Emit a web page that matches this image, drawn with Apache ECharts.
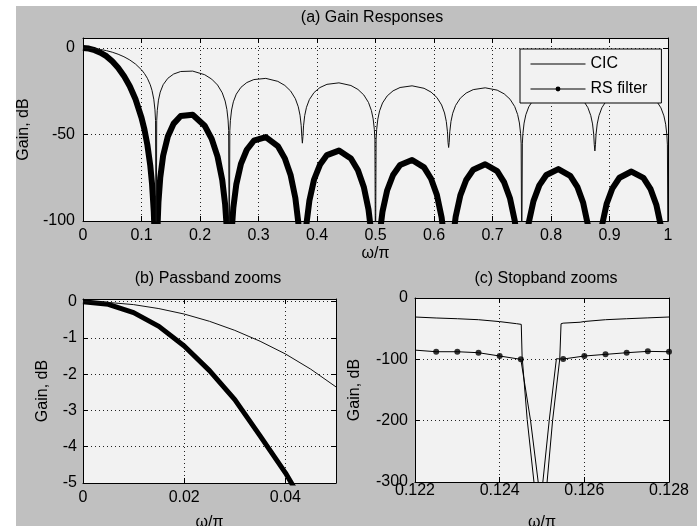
<!DOCTYPE html>
<html><head><meta charset="utf-8">
<script src="https://cdn.jsdelivr.net/npm/echarts@6/dist/echarts.min.js"></script>
<style>
html,body{margin:0;padding:0;background:#fff;}
#fig{position:absolute;left:16px;top:6px;width:681px;height:520px;background:#c0c0c0;}
#chart{position:absolute;left:0;top:0;width:697px;height:526px;}
</style></head><body><div id="fig"></div><div id="chart"></div>
<script>
// ---------- (a) Gain responses, full band ----------
const cicX = [0,0.01,0.02,0.03,0.04,0.05,0.06,0.07,0.08,0.09,0.1,0.105,0.11,0.115,0.118,0.121,0.123,0.124,0.125,
  0.126,0.127,0.129,0.132,0.137,0.145,0.155,0.167,0.1875,0.208,0.22,0.23,0.238,0.243,0.246,0.248,0.249,0.25,
  0.251,0.252,0.254,0.257,0.262,0.27,0.28,0.292,0.3125,0.333,0.345,0.355,0.363,0.368,0.371,0.373,0.374,0.375,
  0.376,0.377,0.379,0.382,0.387,0.395,0.405,0.417,0.4375,0.458,0.47,0.48,0.488,0.493,0.496,0.498,0.499,0.5,
  0.501,0.502,0.504,0.507,0.512,0.52,0.53,0.542,0.5625,0.583,0.595,0.605,0.613,0.618,0.621,0.623,0.624,0.625,
  0.626,0.627,0.629,0.632,0.637,0.645,0.655,0.667,0.6875,0.708,0.72,0.73,0.738,0.743,0.746,0.748,0.749,0.75,
  0.751,0.752,0.754,0.757,0.762,0.77,0.78,0.792,0.8125,0.833,0.845,0.855,0.863,0.868,0.871,0.873,0.874,0.875,
  0.876,0.877,0.879,0.882,0.887,0.895,0.905,0.917,0.9375,0.958,0.97,0.98,0.988,0.993,0.996,0.998,0.999,1];
const cicY = [0,-0.09,-0.37,-0.84,-1.51,-2.41,-3.57,-5.04,-6.91,-9.33,-12.59,-14.73,-17.47,-21.26,-24.53,-29.58,-35.73,-41.81,-130,
  -41.96,-36.0,-30.13,-25.49,-21.21,-17.5,-15.02,-13.57,-13.34,-15.42,-17.97,-21.39,-25.87,-30.65,-35.58,-41.65,-47.71,-130,
  -47.77,-41.78,-35.83,-31.1,-26.66,-22.71,-19.96,-18.23,-17.55,-19.26,-21.62,-24.89,-29.27,-33.97,-38.86,-44.91,-50.95,-55,
  -51.0,-45.0,-39.03,-34.26,-29.76,-25.71,-22.85,-20.99,-20.13,-21.67,-23.93,-27.13,-31.45,-36.12,-40.99,-47.02,-53.06,-130,
  -53.09,-47.08,-41.09,-36.3,-31.77,-27.68,-24.75,-22.82,-21.85,-23.28,-25.48,-28.63,-32.91,-37.55,-42.41,-48.44,-54.47,-57.5,
  -54.49,-48.48,-42.49,-37.69,-33.13,-29.0,-26.03,-24.05,-22.99,-24.34,-26.5,-29.61,-33.86,-38.49,-43.34,-49.36,-55.39,-130,
  -55.4,-49.39,-43.39,-38.57,-34.0,-29.85,-26.85,-24.82,-23.7,-24.99,-27.11,-30.2,-34.42,-39.04,-43.87,-49.89,-55.91,-59.5,
  -55.92,-49.9,-43.9,-39.08,-34.49,-30.31,-27.28,-25.22,-24.04,-25.27,-27.36,-30.42,-34.62,-39.22,-44.05,-50.06,-56,-130];

const rsX = [0,0.01,0.02,0.03,0.04,0.05,0.06,0.07,0.08,0.09,0.1,0.105,0.11,0.115,0.118,0.121,0.123,0.125,
  0.127,0.129,0.132,0.137,0.145,0.155,0.167,0.1875,0.208,0.22,0.23,0.238,0.243,0.246,0.25,
  0.254,0.257,0.262,0.27,0.28,0.292,0.3125,0.333,0.345,0.355,0.363,0.368,0.371,0.375,
  0.379,0.382,0.387,0.395,0.405,0.417,0.4375,0.458,0.47,0.48,0.488,0.493,0.5,
  0.507,0.512,0.52,0.53,0.542,0.5625,0.583,0.595,0.605,0.613,0.618,0.625,
  0.632,0.637,0.645,0.655,0.667,0.6875,0.708,0.72,0.73,0.738,0.743,0.75,
  0.757,0.762,0.77,0.78,0.792,0.8125,0.833,0.845,0.855,0.863,0.868,0.875,
  0.882,0.887,0.895,0.905,0.917,0.9375,0.958,0.97,0.98,0.988,0.993,1];
const rsY = [0,-0.3,-1.22,-2.7,-4.72,-7.7,-11.4,-16.1,-22.1,-29.8,-40.3,-47.1,-55.9,-68.0,-78.5,-94.7,-114,-160,
  -106.6,-89.0,-75.1,-62.2,-51.1,-43.7,-39.3,-38.6,-44.9,-52.5,-62.8,-76.2,-90.6,-105.3,-160,
  -106.4,-92.2,-78.9,-67.0,-58.8,-53.6,-51.5,-56.7,-63.8,-73.6,-86.7,-100.8,-115.5,-160,
  -116.0,-101.7,-88.2,-76.0,-67.5,-61.9,-59.3,-63.9,-70.7,-80.3,-93.3,-107.3,-160,
  -108.1,-94.5,-82.2,-73.4,-67.6,-64.7,-69.0,-75.6,-85.0,-97.9,-111.8,-160,
  -111.3,-97.6,-85.2,-76.3,-70.4,-67.2,-71.2,-77.7,-87.0,-99.8,-113.7,-160,
  -114.6,-100.9,-88.5,-79.4,-73.4,-70.0,-73.9,-80.2,-89.5,-102.2,-116.0,-160,
  -116.5,-102.8,-90.2,-81.1,-75.0,-71.4,-75.1,-81.4,-90.6,-103.2,-117.0,-160];

// ---------- (b) Passband zoom ----------
const passX = [0,0.005,0.01,0.015,0.02,0.025,0.03,0.035,0.04,0.045,0.05];
const passCic = [0,-0.02,-0.08,-0.19,-0.34,-0.54,-0.79,-1.09,-1.44,-1.86,-2.35];
const passRs = [0,-0.07,-0.3,-0.68,-1.22,-1.9,-2.7,-3.7,-4.72,-5.9,-7.2];

// ---------- (c) Stopband zoom ----------
const stopCicX = [0.122,0.1225,0.123,0.1235,0.124,0.1244,0.12451,0.12453,0.12465,0.12481,0.1249,
  0.1251,0.12512,0.12525,0.12542,0.12545,0.1255,0.1259,0.126,0.1265,0.127,0.1275,0.128];
const stopCicY = [-31,-32.6,-33.8,-35.4,-38.5,-41.9,-43,-95,-198,-300,-360,
  -360,-300,-200,-99,-42,-41,-39.5,-38.3,-35.4,-33.8,-32.4,-31];
const stopRsX = [0.122,0.1225,0.123,0.1235,0.124,0.1245,0.12473,0.12491,0.12497,0.12502,0.12517,0.12534,
  0.1255,0.126,0.1265,0.127,0.1275,0.128];
const stopRsY = [-85,-87.6,-87.6,-89.2,-94.6,-100,-200,-300,-340,-300,-200,-99,
  -99.5,-94.6,-91.9,-89.2,-87,-87.6];

// tick settings
const aTicksX = {min:0, max:1, interval:0.1};
const aTicksY = {min:-100, max:5.8, interval:50};
const bTicksX = {min:0, max:0.05, interval:0.02};
const bTicksY = {min:-5, max:0.075, interval:1};
const cTicksX = {min:0.122, max:0.128, interval:0.002};
const cTicksY = {min:-300, max:0, interval:100};

const FONT = '"Liberation Sans", Arial, Helvetica, sans-serif';
const zip = (xs, ys) => xs.map((x, i) => [x, ys[i]]);
const black = '#000';
const gridLine = {show:true, lineStyle:{color:'#222', type:[1,3], width:1}};
const axLine = {show:true, onZero:false, lineStyle:{color:black, width:1}};
const tick = {show:true, inside:true, length:5, lineStyle:{color:black}};
const lbl = (margin, showMax) => ({show:true, color:black, fontSize:16, fontFamily:FONT, margin:margin, showMaxLabel:showMax});

function xMain(g, t, margin, nameGap, showMax) {
  return Object.assign({type:'value', gridIndex:g, position:'bottom', axisLine:axLine, axisTick:tick,
    axisLabel:lbl(margin, showMax), splitLine:gridLine, name:'ω/π', nameLocation:'middle', nameGap:nameGap,
    nameTextStyle:{color:black, fontSize:16, fontFamily:FONT}}, t);
}
function xMirror(g, t) {
  return Object.assign({type:'value', gridIndex:g, position:'top', axisLine:axLine, axisTick:tick,
    axisLabel:{show:false}, splitLine:{show:false}}, t);
}
function yMain(g, t, margin, nameGap, showMax) {
  return Object.assign({type:'value', gridIndex:g, position:'left', axisLine:axLine, axisTick:tick,
    axisLabel:lbl(margin, showMax), splitLine:gridLine, name:'Gain, dB', nameLocation:'middle', nameGap:nameGap,
    nameRotate:90, nameTextStyle:{color:black, fontSize:16, fontFamily:FONT}}, t);
}
function yMirror(g, t) {
  return Object.assign({type:'value', gridIndex:g, position:'right', axisLine:axLine, axisTick:tick,
    axisLabel:{show:false}, splitLine:{show:false}}, t);
}

const gridBg = '#f2f2f2';
const isMarker = x => x > 0.1221 && Math.abs(x * 2000 - Math.round(x * 2000)) < 1e-6;
const titleText = (txt, x, y) => ({type:'text', x:x, y:y, silent:true,
  style:{text:txt, fill:black, font:'16px ' + FONT, fontSize:16, fontFamily:FONT,
    textAlign:'center', align:'center', textVerticalAlign:'middle', verticalAlign:'middle'}});

const option = {
  animation:false,
  backgroundColor:'transparent',
  textStyle:{fontFamily:FONT},
  grid:[
    {left:83, top:38, width:585, height:183, show:true, backgroundColor:gridBg, borderWidth:0, containLabel:false, outerBoundsMode:'none'},
    {left:83, top:299, width:253, height:184, show:true, backgroundColor:gridBg, borderWidth:0, containLabel:false, outerBoundsMode:'none'},
    {left:415, top:298, width:254, height:184, show:true, backgroundColor:gridBg, borderWidth:0, containLabel:false, outerBoundsMode:'none'}
  ],
  xAxis:[
    xMain(0, aTicksX, 7, 25, true), xMirror(0, aTicksX),
    xMain(1, bTicksX, 7, 32, false), xMirror(1, bTicksX),
    xMain(2, cTicksX, 1, 33, true), xMirror(2, cTicksX)
  ],
  yAxis:[
    yMain(0, aTicksY, 8, 50, false), yMirror(0, aTicksY),
    yMain(1, bTicksY, 6, 32, false), yMirror(1, bTicksY),
    yMain(2, cTicksY, 7, 52, true), yMirror(2, cTicksY)
  ],
  legend:{
    data:[{name:'CIC', itemStyle:{opacity:0}}, {name:'RS filter'}],
    orient:'vertical', left:520, top:49,
    itemWidth:55, itemHeight:6, itemGap:9,
    padding:[7, 14, 6, 10],
    backgroundColor:gridBg, borderColor:black, borderWidth:1, borderRadius:0,
    textStyle:{color:black, fontSize:16, fontFamily:FONT},
    lineStyle:{color:black, width:1}, itemStyle:{color:black, borderWidth:0},
    selectedMode:false
  },
  graphic:[
    titleText('(a) Gain Responses', 372, 18),
    titleText('(b) Passband zooms', 208, 279),
    titleText('(c) Stopband zooms', 546, 279)
  ],
  series:[
    {name:'CIC', type:'line', xAxisIndex:0, yAxisIndex:0, data:zip(cicX, cicY), symbol:'none', clip:true,
      lineStyle:{color:'#111', width:1}, itemStyle:{color:black}, z:3},
    {name:'RS filter', type:'line', xAxisIndex:0, yAxisIndex:0, data:zip(rsX, rsY), symbol:'circle', showSymbol:false, clip:true,
      lineStyle:{color:black, width:6, join:'round'}, itemStyle:{color:black}, z:2},
    {name:'CIC', type:'line', xAxisIndex:2, yAxisIndex:2, data:zip(passX, passCic), symbol:'none', clip:true,
      lineStyle:{color:'#111', width:1}, itemStyle:{color:black}, z:3},
    {name:'RS filter', type:'line', xAxisIndex:2, yAxisIndex:2, data:zip(passX, passRs), symbol:'none', clip:true,
      lineStyle:{color:black, width:5}, itemStyle:{color:black}, z:2},
    {name:'CIC', type:'line', xAxisIndex:4, yAxisIndex:4, data:zip(stopCicX, stopCicY), symbol:'none', clip:true,
      lineStyle:{color:black, width:1}, itemStyle:{color:black}, z:3},
    {name:'RS filter', type:'line', xAxisIndex:4, yAxisIndex:4, data:zip(stopRsX, stopRsY), symbol:'none', clip:true,
      lineStyle:{color:black, width:1}, itemStyle:{color:black}, z:3},
    {name:'RS filter', type:'scatter', xAxisIndex:4, yAxisIndex:4,
      data:zip(stopRsX, stopRsY).filter(p => isMarker(p[0])), symbol:'circle', symbolSize:6, clip:false,
      itemStyle:{color:black}, z:4}
  ]
};
const chart = echarts.init(document.getElementById('chart'), null, {renderer:'canvas'});
chart.setOption(option);
</script></body></html>
